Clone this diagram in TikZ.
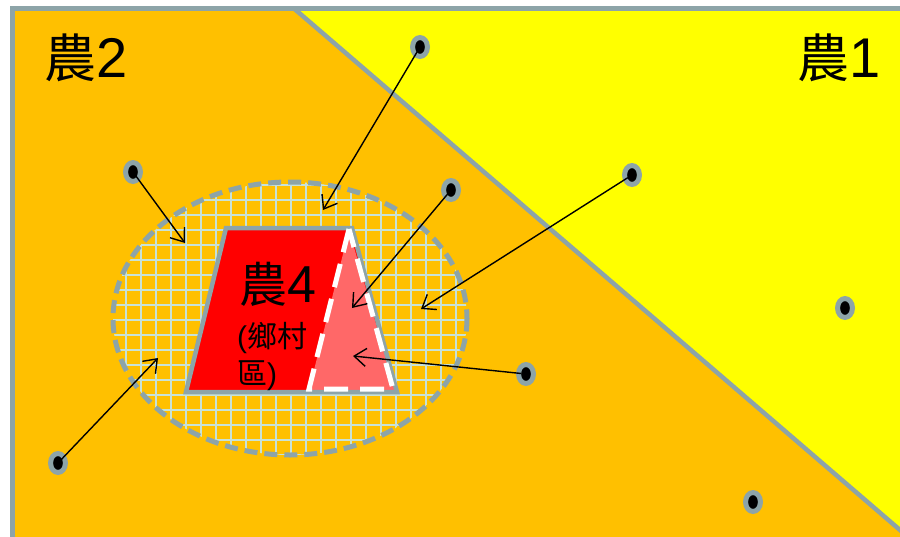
\documentclass[tikz,border=0pt]{standalone}
\usepackage{fontspec}
\setmainfont{Liberation Sans}
\newfontfamily\cjk{Noto Sans CJK TC}
\usetikzlibrary{shapes.geometric,arrows.meta}
\definecolor{orng}{RGB}{255,192,0}
\definecolor{yel}{RGB}{255,255,0}
\definecolor{frm}{RGB}{141,164,168}
\definecolor{gridc}{RGB}{200,226,214}
\definecolor{redd}{RGB}{255,0,0}
\definecolor{lred}{RGB}{255,104,104}
\tikzset{
  dotnode/.style={ellipse, fill=frm, minimum width=20pt, minimum height=24pt, inner sep=0pt,
    path picture={\fill[black] (path picture bounding box.center) ellipse (4.8pt and 6.8pt);}},
  arr/.style={line width=1.4pt, black, shorten <=5pt, -{Straight Barb[length=12pt,width=18pt,line width=1.4pt]}},
  lbl/.style={inner sep=0pt, anchor=base west, text=black},
}
\begin{document}
\begin{tikzpicture}[x=1pt,y=-1pt]
\clip (0,0) rectangle (900,536);
\fill[white] (0,0) rectangle (900,536);
% regions
\fill[orng] (12.5,8.5) rectangle (910,545);
\fill[yel] (294,8.5) -- (910,8.5) -- (910,538.6) -- cycle;
\draw[frm, line width=4.5pt] (294,8.5) -- (910,538.6);
\draw[frm, line width=5pt] (12.5,560) -- (12.5,8.5) -- (910,8.5);
% grid ellipse
\begin{scope}
  \clip (290,318.5) ellipse (177 and 136.5);
  \foreach \x in {110.7,125.7,...,471} \draw[gridc, line width=2.2pt] (\x,170) -- (\x,470);
  \foreach \y in {185,200,...,456} \draw[gridc, line width=2.2pt] (100,\y) -- (480,\y);
\end{scope}
\draw[frm, line width=5pt, dash pattern=on 13pt off 7pt] (290,318.5) ellipse (177 and 136.5);
% trapezoid
\fill[redd] (186,392) -- (226,228) -- (352,228) -- (397,392) -- cycle;
\fill[lred] (349,230) -- (395,390) -- (309,390) -- cycle;
\draw[frm, line width=4.5pt, line join=miter] (186,392) -- (226,228) -- (352,228) -- (397,392) -- cycle;
\draw[white, line width=5pt, dash pattern=on 24pt off 12pt] (349,229) -- (309,389) -- (393,389) -- cycle;
% labels
\node[lbl] (L2) at (44,77) {\fontsize{52}{60}\selectfont{\cjk 農}\fontsize{56}{60}\selectfont 2};
\node[lbl] (L1) at (797,77) {\fontsize{52}{60}\selectfont{\cjk 農}\fontsize{56}{60}\selectfont 1};
\node[lbl] (L4) at (239.5,302) {\fontsize{48}{55}\selectfont{\cjk 農}\fontsize{52}{55}\selectfont 4};
\node[lbl] (L4a) at (237,347) {\fontsize{30}{36}\selectfont({\cjk 鄉村}};
\node[lbl] (L4b) at (237,384) {\fontsize{30}{36}\selectfont{\cjk 區})};
% dots
\node[dotnode] (d1) at (420,47) {};
\node[dotnode] (d2) at (133,172) {};
\node[dotnode] (d3) at (451,190) {};
\node[dotnode] (d4) at (632,175) {};
\node[dotnode] (d5) at (845,308) {};
\node[dotnode] (d6) at (526,374) {};
\node[dotnode] (d7) at (58,463) {};
\node[dotnode] (d8) at (753,502) {};
% arrow targets
\coordinate (t1) at (323,210);
\coordinate (t2) at (185,243);
\coordinate (t3) at (352,308);
\coordinate (t4) at (421,309);
\coordinate (t6) at (353,356);
\coordinate (t7) at (158,358);
\draw[arr] (d1.center) -- (t1);
\draw[arr] (d2.center) -- (t2);
\draw[arr] (d3.center) -- (t3);
\draw[arr] (d4.center) -- (t4);
\draw[arr] (d6.center) -- (t6);
\draw[arr] (d7.center) -- (t7);
\end{tikzpicture}
\end{document}
